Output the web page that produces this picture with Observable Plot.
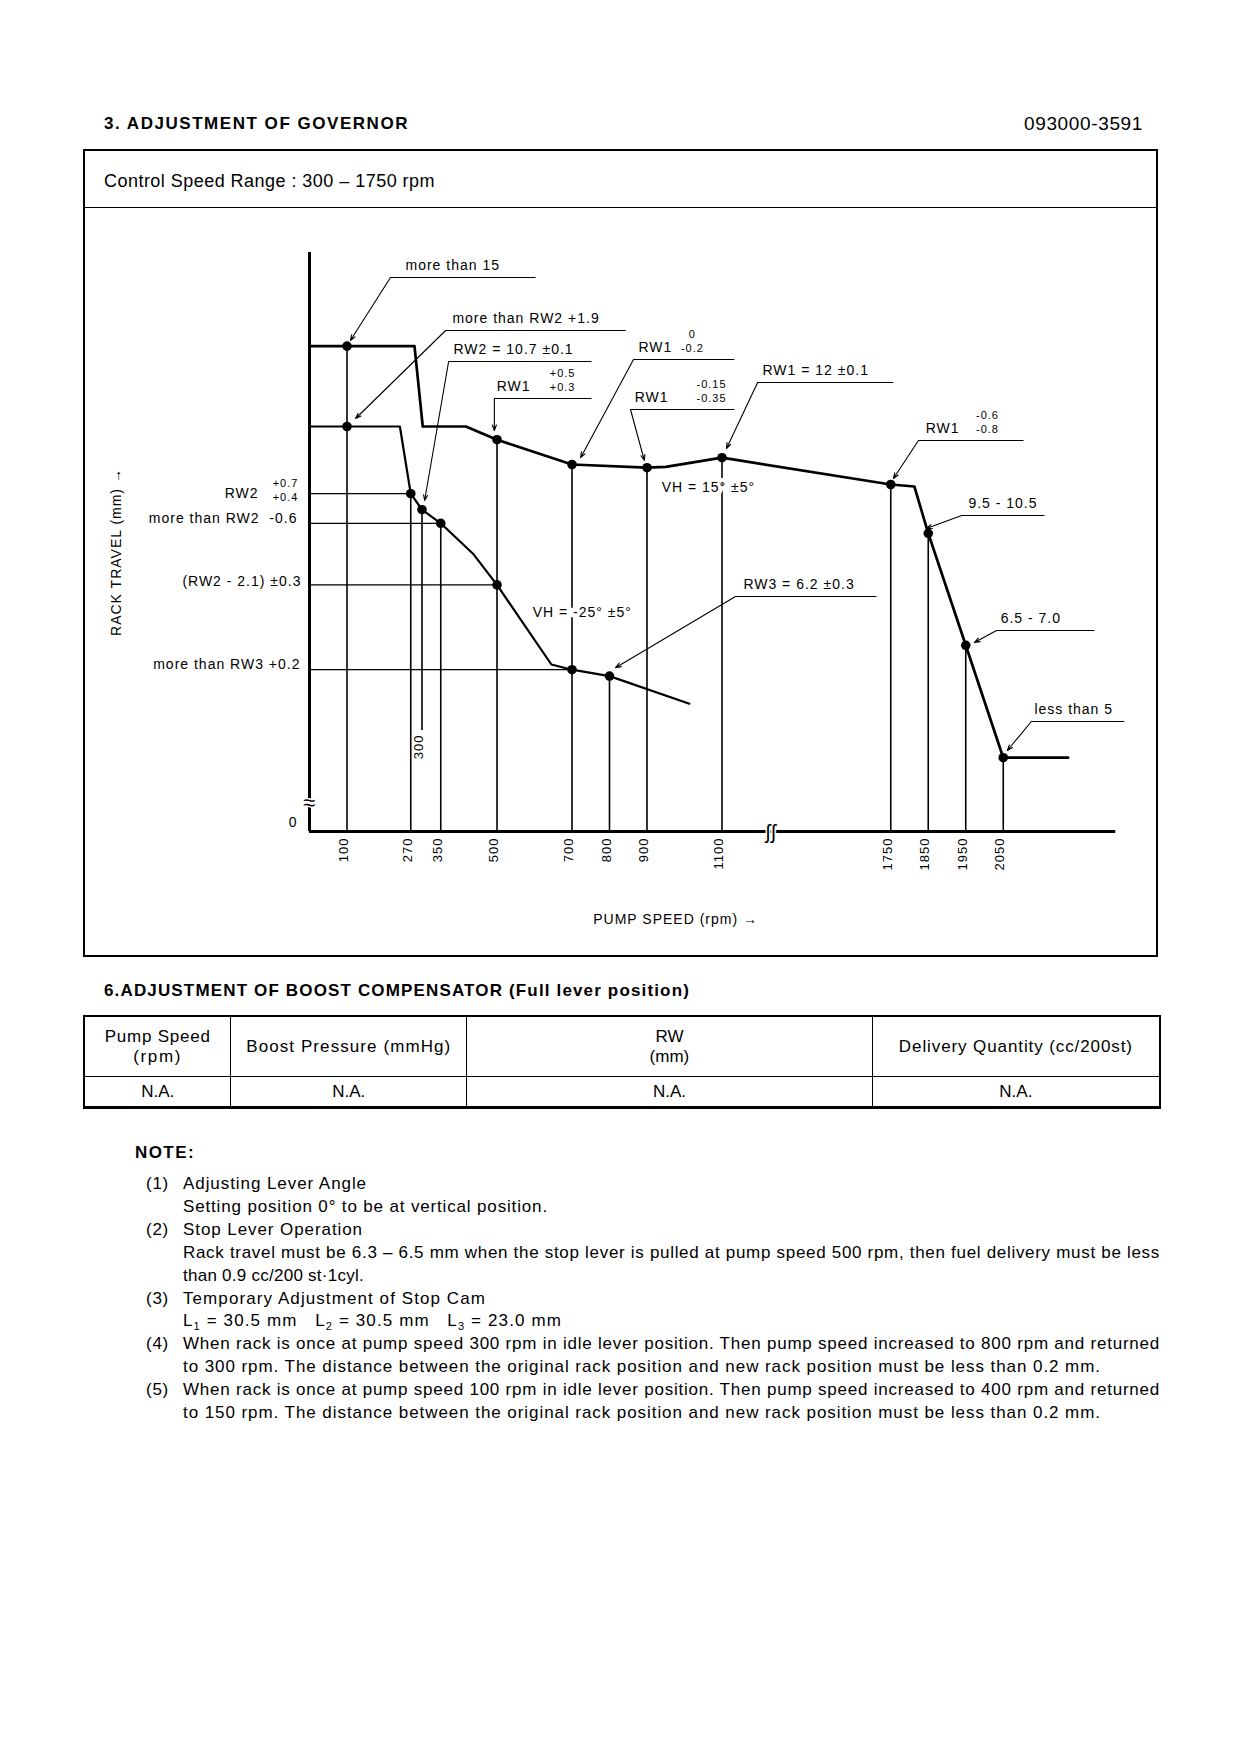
<!DOCTYPE html>
<html>
<head>
<meta charset="utf-8">
<script src="https://cdn.jsdelivr.net/npm/d3@7"></script>
<script src="https://cdn.jsdelivr.net/npm/@observablehq/plot@0.6"></script>
<style>
  html, body { margin: 0; padding: 0; background: #fff; }
  body { width: 1240px; height: 1754px; position: relative; font-family: "Liberation Sans", Arial, Helvetica, sans-serif; color: #000; }
  .abs { position: absolute; white-space: nowrap; line-height: 1; }
  .fit { display: inline-block; white-space: nowrap; }
  #box { position: absolute; left: 83px; top: 149px; width: 1075px; height: 808px; border: 2px solid #000; box-sizing: border-box; }
  #ctrlrow { position: absolute; left: 0; top: 0; right: 0; height: 56px; border-bottom: 1.5px solid #000; }
  #chart { position: absolute; left: 85px; top: 209px; }
  table.boost { position: absolute; left: 83px; top: 1015px; width: 1078px; border-collapse: collapse; font-size: 17px; border: 2px solid #000; }
  table.boost td { border: 1.5px solid #000; text-align: center; padding: 0; }
  table.boost tr.h td { height: 59px; line-height: 20px; }
  table.boost tr.d td { height: 29px; border-bottom: 3px solid #000; }
  g[aria-label="x-tick-labels"] text { letter-spacing: 2.2px; }
  g[aria-label="superscripts"] text { letter-spacing: 0.3px; }
  g[aria-label="titles"] text { letter-spacing: 1.8px; }
  g[aria-label="rack-labels"] text { letter-spacing: 1.3px; }
</style>
</head>
<body>

<div class="abs" style="left:104px; top:115px; font-size:17px; font-weight:bold;"><span class="fit" data-w="305">3. ADJUSTMENT OF GOVERNOR</span></div>
<div class="abs" style="right:97px; top:114px; font-size:19px;"><span class="fit" data-w="119">093000-3591</span></div>

<div id="box">
  <div id="ctrlrow">
    <div class="abs" style="left:19px; top:21px; font-size:18px;"><span class="fit" data-w="331">Control Speed Range : 300 – 1750 rpm</span></div>
  </div>
</div>
<div id="chart"></div>

<div class="abs" style="left:104px; top:982px; font-size:17px; font-weight:bold;"><span class="fit" data-w="586">6.ADJUSTMENT OF BOOST COMPENSATOR (Full lever position)</span></div>

<table class="boost">
  <colgroup><col style="width:147px"><col style="width:236px"><col style="width:407px"><col style="width:288px"></colgroup>
  <tr class="h">
    <td><span class="fit" data-w="106">Pump Speed</span><br><span class="fit" data-w="49">(rpm)</span></td>
    <td><span class="fit" data-w="205">Boost Pressure (mmHg)</span></td>
    <td>RW<br>(mm)</td>
    <td><span class="fit" data-w="234">Delivery Quantity (cc/200st)</span></td>
  </tr>
  <tr class="d"><td>N.A.</td><td>N.A.</td><td>N.A.</td><td>N.A.</td></tr>
</table>

<div class="abs" style="left:135px; top:1144px; font-size:17px; font-weight:bold;"><span class="fit" data-w="60">NOTE:</span></div>
<div id="notes"></div>

<script>
// ---------------- DATA ----------------
// Broken pump-speed axis: speeds above the break are drawn 200 rpm to the left.
const BREAK_AT = 1300, BREAK_GAP = 200;
const brk = r => (r > BREAK_AT ? r - BREAK_GAP : r);
const RACK_MIN = 2.625, RACK_MAX = 17.1;      // visible rack-travel range (mm), axis origin labelled 0
const SPEED_MAX = 2350;                        // end of pump-speed axis (rpm)
const AXIS_BREAK_RPM = 1231;
const RACK_BREAK_MM = 3.35;

// Full-load (upper) curve, incl. start-up plateau
const fullRpm = [0, 280, 302, 417, 500, 700, 900, 950, 1100, 1750, 1813, 1850, 1950, 2050, 2223];
const fullMm  = [14.76, 14.76, 12.75, 12.75, 12.42, 11.8, 11.72, 11.74, 11.97, 11.3, 11.25, 10.08, 7.28, 4.47, 4.47];
// Idle curve
const idleRpm = [0, 241, 270, 300, 350, 436, 500, 645, 700, 800, 1013];
const idleMm  = [12.75, 12.75, 11.07, 10.67, 10.33, 9.57, 8.79, 6.8, 6.67, 6.51, 5.82];

// Measuring points (dots)
const pointRpm = [100, 100, 270, 300, 350, 500, 500, 700, 700, 800, 900, 1100, 1750, 1850, 1950, 2050];
const pointMm  = [14.76, 12.75, 11.07, 10.67, 10.33, 12.42, 8.79, 11.8, 6.67, 6.51, 11.72, 11.97, 11.3, 10.08, 7.28, 4.47];

// Speed ticks with their vertical lines
const tickRpm    = [100, 270, 300, 350, 500, 700, 800, 900, 1100, 1750, 1850, 1950, 2050];
const tickLabels = ["100", "270", "300", "350", "500", "700", "800", "900", "1100", "1750", "1850", "1950", "2050"];
const tickTopMm  = [14.76, 11.07, 10.67, 10.33, 12.42, 11.8, 6.51, 11.72, 11.97, 11.3, 10.08, 7.28, 4.47];
const tickLowMm  = [RACK_MIN, RACK_MIN, 5.15, RACK_MIN, RACK_MIN, RACK_MIN, RACK_MIN, RACK_MIN, RACK_MIN, RACK_MIN, RACK_MIN, RACK_MIN, RACK_MIN];

// Horizontal reference lines at the rack axis
const refMm     = [11.07, 10.33, 8.79, 6.67];
const refToRpm  = [270, 350, 500, 700];
const refLabels = ["RW2", "more than RW2\u00a0\u00a0-0.6", "(RW2 - 2.1) ±0.3", "more than RW3 +0.2"];
const refDx     = [-51, -12, -8, -9];
const refDy     = [0, -5, -3, -5];
const rw2SupUpper = "+0.7", rw2SupLower = "+0.4";

// Callout annotations
const annText     = ["more than 15", "more than RW2 +1.9", "RW2 = 10.7 ±0.1", "RW1", "RW1", "RW1", "RW1 = 12 ±0.1", "RW1", "9.5 - 10.5", "6.5 - 7.0", "less than 5", "RW3 = 6.2 ±0.3"];
const annTextRpm  = [256, 381, 384, 499, 877, 867, 1208, 1843, 1957, 2043, 2133, 1157];
const annLineMm   = [16.475, 15.15, 14.375, 13.45, 14.425, 13.175, 13.85, 12.4, 10.525, 7.65, 5.375, 8.5];
const annFromRpm  = [216, 363, 371, 493, 864, 856, 1195, 1824, 1939, 2032, 2125, 1136];
const annToRpm    = [603, 843, 752, 752, 1133, 1133, 1757, 2104, 2160, 2293, 2373, 1712];
const annTipRpm   = [109, 123, 307, 493, 723, 893, 1112, 1757, 1845, 1973, 2061, 816];
const annTipMm    = [14.9, 12.95, 10.9, 12.65, 11.97, 11.9, 12.2, 11.45, 10.2, 7.35, 4.65, 6.72];
const annSupRpm   = [null, null, null, 675, 1021, 1072, null, 2008, null, null, null, null];
const annSupUpper = ["", "", "", "+0.5", "0", "-0.15", "", "-0.6", "", "", "", ""];
const annSupLower = ["", "", "", "+0.3", "-0.2", "-0.35", "", "-0.8", "", "", "", ""];

// Lever-angle notes on the curves
const vhText = ["VH = 15° ±5°", "VH = -25° ±5°"];
const vhRpm  = [939, 595];
const vhMm   = [11.225, 8.1];

const yTitle = "RACK TRAVEL (mm) \u2192";
const xTitle = "PUMP SPEED (rpm) \u2192";

// Notes text
const noteNums  = ["(1)", "", "(2)", "", "", "(3)", "", "(4)", "", "(5)", ""];
const noteLines = [
  "Adjusting Lever Angle",
  "Setting position 0° to be at vertical position.",
  "Stop Lever Operation",
  "Rack travel must be 6.3 – 6.5 mm when the stop lever is pulled at pump speed 500 rpm, then fuel delivery must be less",
  "than 0.9 cc/200 st·1cyl.",
  "Temporary Adjustment of Stop Cam",
  "L<sub style='font-size:11px'>1</sub> = 30.5 mm &nbsp; L<sub style='font-size:11px'>2</sub> = 30.5 mm &nbsp; L<sub style='font-size:11px'>3</sub> = 23.0 mm",
  "When rack is once at pump speed 300 rpm in idle lever position. Then pump speed increased to 800 rpm and returned",
  "to 300 rpm. The distance between the original rack position and new rack position must be less than 0.2 mm.",
  "When rack is once at pump speed 100 rpm in idle lever position. Then pump speed increased to 400 rpm and returned",
  "to 150 rpm. The distance between the original rack position and new rack position must be less than 0.2 mm."
];
const noteWidths = [184, 365, 180, 977, 181, 303, 379, 977, 918, 977, 918];

// ---------------- NOTES ----------------
const notes = document.getElementById("notes");
noteLines.forEach((t, i) => {
  const top = 1175 + i * 22.9;
  if (noteNums[i]) {
    const n = document.createElement("div");
    n.className = "abs"; n.style.cssText = `left:146px; top:${top}px; font-size:17px;`;
    n.innerHTML = `<span class="fit" data-w="23">${noteNums[i]}</span>`;
    notes.appendChild(n);
  }
  const d = document.createElement("div");
  d.className = "abs"; d.style.cssText = `left:183px; top:${top}px; font-size:17px;`;
  d.innerHTML = `<span class="fit" data-w="${noteWidths[i]}">${t}</span>`;
  notes.appendChild(d);
});

// ---------------- CHART ----------------
const idx = a => a.map((_, i) => i);
const annIdx = idx(annText);
const supIdx = annIdx.filter(i => annSupRpm[i] != null);
const axisTickIdx = idx(tickRpm).filter(i => tickLowMm[i] === RACK_MIN);
const innerTickIdx = idx(tickRpm).filter(i => tickLowMm[i] !== RACK_MIN);

const refLabelMarks = refLabels.map((t, i) =>
  Plot.text([t], {x: 0, y: refMm[i], textAnchor: "end", dx: refDx[i], dy: refDy[i], fontSize: 14, fill: "#000", ariaLabel: "rack-labels"})
);

const chart = Plot.plot({
  width: 1072,
  height: 746,
  marginLeft: 224,
  marginRight: 41.75,
  marginTop: 43,
  marginBottom: 124,
  x: {domain: [0, brk(SPEED_MAX)], axis: null},
  y: {domain: [RACK_MIN, RACK_MAX], axis: null},
  style: {background: "transparent", fontFamily: "'Liberation Sans', Arial, sans-serif", fontSize: "14px", color: "#000", overflow: "visible", letterSpacing: "1px"},
  marks: [
    // vertical lines at measuring speeds
    Plot.ruleX(idx(tickRpm), {x: i => brk(tickRpm[i]), y1: i => tickLowMm[i], y2: i => tickTopMm[i], stroke: "#000", strokeWidth: 1.6}),
    // horizontal reference lines from the rack axis
    Plot.ruleY(idx(refMm), {y: i => refMm[i], x1: 0, x2: i => brk(refToRpm[i]), stroke: "#000", strokeWidth: 1.3}),
    // lever-angle notes (white halo interrupts the lines behind them)
    Plot.text(idx(vhText), {x: i => brk(vhRpm[i]), y: i => vhMm[i], text: i => vhText[i], textAnchor: "start", fontSize: 14, fill: "white", stroke: "white", strokeWidth: 9}),
    Plot.text(idx(vhText), {x: i => brk(vhRpm[i]), y: i => vhMm[i], text: i => vhText[i], textAnchor: "start", fontSize: 14, fill: "#000"}),
    // curves
    Plot.line(idx(fullRpm), {x: i => brk(fullRpm[i]), y: i => fullMm[i], stroke: "#000", strokeWidth: 2.7, strokeLinejoin: "round"}),
    Plot.line(idx(idleRpm), {x: i => brk(idleRpm[i]), y: i => idleMm[i], stroke: "#000", strokeWidth: 2.2, strokeLinejoin: "round"}),
    // axes
    Plot.ruleX([0], {y1: RACK_MIN, y2: RACK_MAX, stroke: "#000", strokeWidth: 3}),
    Plot.ruleY([RACK_MIN], {x1: 0, x2: brk(SPEED_MAX), stroke: "#000", strokeWidth: 3}),
    // axis break marks
    Plot.text(["\u2248"], {x: 0, y: RACK_BREAK_MM, fontSize: 22, stroke: "white", strokeWidth: 3, fill: "#000"}),
    Plot.text(["\u0283\u0283"], {x: AXIS_BREAK_RPM, y: RACK_MIN, fontSize: 20, stroke: "white", strokeWidth: 3, fill: "#000", dy: 1}),
    // dots
    Plot.dot(idx(pointRpm), {x: i => brk(pointRpm[i]), y: i => pointMm[i], r: 4.8, fill: "#000", stroke: "none"}),
    // callout underlines and leaders
    Plot.link(annIdx, {x1: i => brk(annFromRpm[i]), x2: i => brk(annToRpm[i]), y1: i => annLineMm[i], y2: i => annLineMm[i], stroke: "#000", strokeWidth: 1.2}),
    Plot.arrow(annIdx, {x1: i => brk(annFromRpm[i]), y1: i => annLineMm[i], x2: i => brk(annTipRpm[i]), y2: i => annTipMm[i], stroke: "#000", strokeWidth: 1.1, headLength: 8, headAngle: 40}),
    Plot.text(annIdx, {x: i => brk(annTextRpm[i]), y: i => annLineMm[i], text: i => annText[i], textAnchor: "start", dy: -12, fontSize: 14, fill: "#000"}),
    Plot.text(supIdx, {x: i => brk(annSupRpm[i]), y: i => annLineMm[i], text: i => annSupUpper[i], textAnchor: "middle", dy: -25, fontSize: 11, fill: "#000", ariaLabel: "superscripts"}),
    Plot.text(supIdx, {x: i => brk(annSupRpm[i]), y: i => annLineMm[i], text: i => annSupLower[i], textAnchor: "middle", dy: -11, fontSize: 11, fill: "#000", ariaLabel: "superscripts"}),
    // rack-axis labels
    ...refLabelMarks,
    Plot.text([rw2SupUpper], {x: 0, y: refMm[0], textAnchor: "middle", dx: -24, dy: -10, fontSize: 11, fill: "#000", ariaLabel: "superscripts"}),
    Plot.text([rw2SupLower], {x: 0, y: refMm[0], textAnchor: "middle", dx: -24, dy: 4, fontSize: 11, fill: "#000", ariaLabel: "superscripts"}),
    Plot.text(["0"], {x: 0, y: RACK_MIN, textAnchor: "end", dx: -12, dy: -9, fontSize: 14, fill: "#000"}),
    // speed tick labels
    Plot.text(axisTickIdx, {x: i => brk(tickRpm[i]), y: i => tickLowMm[i], text: i => tickLabels[i], rotate: -90, textAnchor: "end", dx: -3, dy: 6, fontSize: 13, fill: "#000", ariaLabel: "x-tick-labels"}),
    Plot.text(innerTickIdx, {x: i => brk(tickRpm[i]), y: i => tickLowMm[i], text: i => tickLabels[i], rotate: -90, textAnchor: "end", dx: -3, dy: 4, fontSize: 13, fill: "#000", ariaLabel: "x-tick-labels"}),
    // axis titles
    Plot.text([yTitle], {frameAnchor: "left", textAnchor: "middle", lineAnchor: "middle", rotate: -90, dx: -193, dy: 10, fontSize: 14, fill: "#000", ariaLabel: "titles"}),
    Plot.text([xTitle], {frameAnchor: "bottom", textAnchor: "middle", lineAnchor: "middle", dx: -37, dy: 88, fontSize: 14, fill: "#000", ariaLabel: "titles"})
  ]
});
document.getElementById("chart").appendChild(chart);

// ---------------- fit text widths ----------------
document.querySelectorAll(".fit[data-w]").forEach(el => {
  el.style.letterSpacing = "0px";
  const w = el.getBoundingClientRect().width;
  const n = el.textContent.length;
  const target = +el.dataset.w;
  el.style.letterSpacing = ((target - w) / n).toFixed(3) + "px";
});
</script>
</body>
</html>
